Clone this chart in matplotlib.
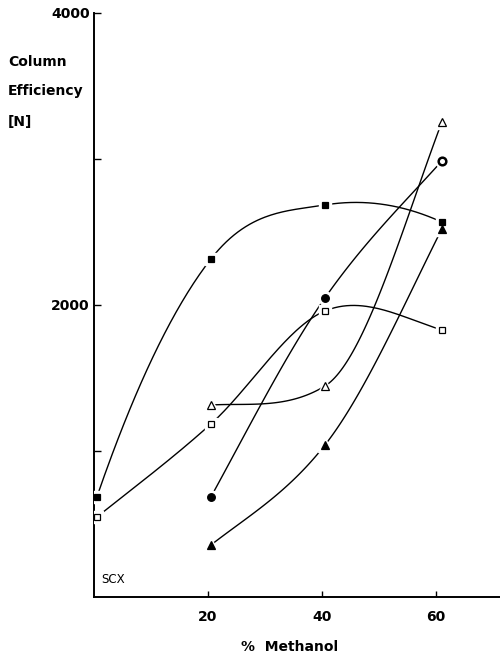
import numpy as np
import matplotlib.pyplot as plt

# % methanol values as they sit on the page
pct4 = [0.5, 20.5, 40.5, 61.0]
pct3 = [20.5, 40.5, 61.0]

# column efficiency N
sq_filled = [685, 2315, 2685, 2568]
sq_open = [548, 1185, 1959, 1829]
tri_open = [1315, 1445, 3253]
circ = [685, 2048, 2986]
tri_filled = [356, 1041, 2521]

y_major = [2000, 4000]
y_minor = [1000, 3000]
x_ticks = [20, 40, 60]


def smooth(x, y, geo=True, k=0.25, n=60):
    # hermite curve through the points, like a french curve drawing
    x = np.asarray(x, float)
    y = np.asarray(y, float)
    d = np.diff(y) / np.diff(x)
    m = np.zeros_like(y)
    for i in range(1, len(y) - 1):
        a, b = d[i - 1], d[i]
        if geo and a * b > 0:
            m[i] = np.sign(a) * np.sqrt(a * b)
        else:
            m[i] = (a + b) / 2
    m[0] = d[0] + k * (d[0] - m[1])
    m[-1] = d[-1] + k * (d[-1] - m[-2])
    xs, ys = [], []
    for i in range(len(x) - 1):
        h = x[i + 1] - x[i]
        t = np.linspace(0, 1, n)
        h00 = 2 * t**3 - 3 * t**2 + 1
        h10 = t**3 - 2 * t**2 + t
        h01 = -2 * t**3 + 3 * t**2
        h11 = t**3 - t**2
        xs.append(x[i] + t * h)
        ys.append(h00 * y[i] + h10 * h * m[i] + h01 * y[i + 1] + h11 * h * m[i + 1])
    return np.concatenate(xs), np.concatenate(ys)


fig = plt.figure(figsize=(5.0, 6.57), dpi=100)
ax = fig.add_axes([0.188, 0.0913, 0.812, 0.889])

series = [
    (pct4, sq_filled, dict(marker='s', mfc='black', ms=5, geo=False, k=1.0)),
    (pct4, sq_open, dict(marker='s', mfc='white', ms=5, geo=True, k=0.25)),
    (pct3, tri_open, dict(marker='^', mfc='white', ms=5.5, geo=True, k=0.25)),
    (pct3, circ, dict(marker='o', mfc='black', ms=5.5, geo=True, k=0.25)),
    (pct3, tri_filled, dict(marker='^', mfc='black', ms=5.5, geo=True, k=0.25)),
]

for xv, yv, st in series:
    cx, cy = smooth(xv, yv, st['geo'], st['k'])
    ax.plot(cx, cy, color='black', lw=1.0, zorder=2)
    # white halo so the line stops short of the symbol
    ax.plot(xv, yv, ls='none', marker=st['marker'], ms=st['ms'] + 4,
            mfc='white', mec='white', zorder=3)
    ax.plot(xv, yv, ls='none', marker=st['marker'], ms=st['ms'],
            mfc=st['mfc'], mec='black', mew=0.9, zorder=4)

# last circle printed as a ring
ax.plot([pct3[-1]], [circ[-1]], ls='none', marker='o', ms=5.5,
        mfc='white', mec='black', mew=1.8, zorder=5)

ax.set_xlim(0, 71.2)
ax.set_ylim(0, 4000)
ax.spines['top'].set_visible(False)
ax.spines['right'].set_visible(False)
ax.spines['left'].set_linewidth(1.4)
ax.spines['bottom'].set_linewidth(1.4)

ax.set_yticks(y_major)
ax.set_yticks(y_minor, minor=True)
ax.set_xticks(x_ticks)
ax.tick_params(axis='y', which='both', direction='in', length=5, width=1, pad=3)
ax.tick_params(axis='x', direction='in', length=4, width=1, pad=9)
for lab in ax.get_yticklabels() + ax.get_xticklabels():
    lab.set_fontweight('bold')
    lab.set_fontsize(10)

fig.text(0.016, 0.905, 'Column', fontsize=10, fontweight='bold', ha='left', va='center')
fig.text(0.016, 0.862, 'Efficiency', fontsize=10, fontweight='bold', ha='left', va='center')
fig.text(0.016, 0.815, '[N]', fontsize=10, fontweight='bold', ha='left', va='center')

ax.text(1.2, 120, 'SCX', fontsize=8.5, ha='left', va='center')
fig.text(0.58, 0.015, '%  Methanol', fontsize=10, fontweight='bold', ha='center', va='center')

fig.savefig('out.png', dpi=100)
